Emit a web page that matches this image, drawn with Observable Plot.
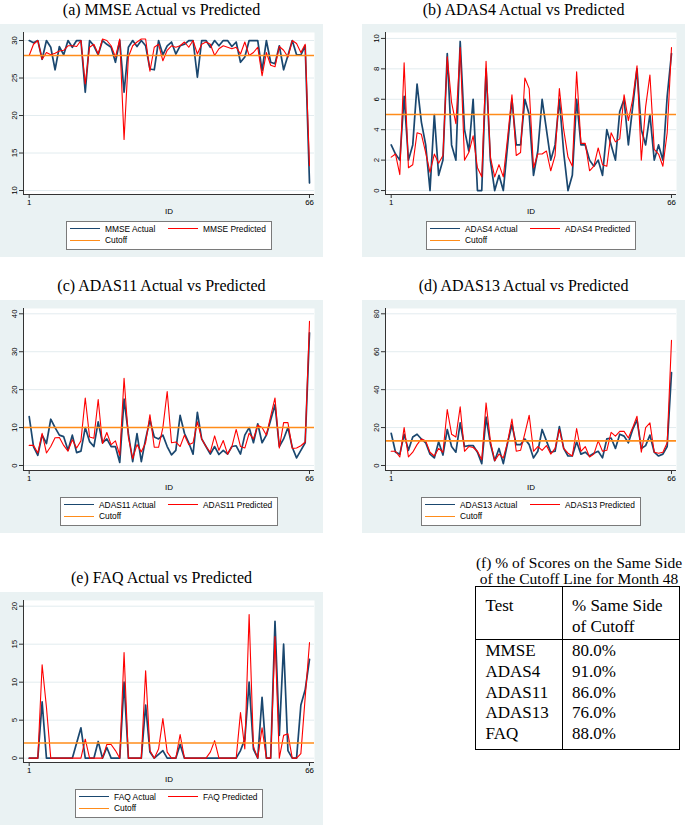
<!DOCTYPE html>
<html>
<head>
<meta charset="utf-8">
<script src="https://cdn.jsdelivr.net/npm/d3@7"></script>
<script src="https://cdn.jsdelivr.net/npm/@observablehq/plot@0.6"></script>
<style>
html, body { margin: 0; padding: 0; background: #fff; }
#root { position: relative; width: 685px; height: 827px; overflow: hidden; font-family: "Liberation Sans", Arial, sans-serif; }
.ptitle { position: absolute; width: 323px; text-align: center; font-family: "Liberation Serif", "Times New Roman", serif; font-size: 16px; line-height: 16px; color: #000; white-space: nowrap; }
.panel { position: absolute; width: 323px; height: 233px; background: #EAF2F3; }
.panel svg { position: absolute; left: 0; top: 0; }
.legend { position: absolute; top: 197px; left: 169px; transform: translateX(-50%); background: #fff; border: 1px solid #7a7a7a; padding: 2px 5px 2px 3px; display: grid; grid-template-columns: auto auto; font-size: 8.4px; line-height: 11.4px; white-space: nowrap; color: #000; }
.legend .sw { display: inline-block; width: 30px; vertical-align: middle; margin-right: 5px; position: relative; top: -1px; }
.ttitle { position: absolute; left: 466px; top: 555px; width: 226px; text-align: center; font-family: "Liberation Serif", "Times New Roman", serif; font-size: 15.5px; line-height: 16px; white-space: nowrap; color: #000; }
table.res { position: absolute; left: 475px; top: 586px; border-collapse: collapse; font-family: "Liberation Serif", "Times New Roman", serif; font-size: 17px; color: #000; border: 1px solid #000; }
table.res td { padding: 0 3px 0 9.5px; line-height: 20.75px; vertical-align: top; white-space: nowrap; }
table.res td.c1 { width: 73px; border-right: 1px solid #000; }
table.res td.c2 { width: 104px; }
table.res tr.head td { line-height: 21px; padding-top: 8px; padding-bottom: 1.5px; border-bottom: 1px solid #000; }
table.res tr.first td { padding-top: 1.6px; }
table.res tr.last td { padding-bottom: 4.6px; }
</style>
</head>
<body>
<div id="root"></div>
<script>
// ---------- data ----------
const ids = d3.range(1, 67);

const mmseActual = [30,29.7,30,27.5,30,29.1,26.1,29.2,28.1,30, 29.1,30,30,23.1,30,29.3,28.1,30,29.5,29.1, 27.1,30,23.1,29.1,30,29.2,30,29.3,26.2,26.1, 30,28.1,29.3,29.8,28.2,29.3,29.5,30,30,25.1, 30,30,29.1,30,29.3,30,30,29.2,29.8,27.1, 27.8,30,30,30,26.0,30,27.1,26.9,29.3,26.1, 28.0,30,28.1,28.1,29.3,11.0];
const mmsePredicted = [28.0,29.5,30,27.5,28.4,28.1,28.3,28.6,28.7,29.3, 29.3,29.2,30,24.2,29.1,29.5,28.2,30.2,30,29.3, 27.8,30.2,16.8,27.8,29.3,29.8,30.2,30.2,25.9,29.1, 29.5,27.3,28.7,29.3,29.1,29.3,29.8,29.1,30,28.2, 29.5,29.8,29.5,28.0,28.9,29.3,29.1,28.9,29.1,28.2, 29.8,28.0,28.4,29.1,25.3,28.4,26.7,26.5,29.2,28.7, 27.8,30,29.6,28.4,29.5,13.3];

const adas4Actual = [3.0,2.4,2.0,6.2,2.0,3.0,7.0,4.5,3.0,0, 5.0,1.0,2.0,9.0,3.0,2.0,9.8,4.0,2.6,6.0, 0,0,8.0,2.0,0,1.0,0,3.0,6.0,3.0, 3.0,6.0,5.0,1.0,2.6,6.0,4.0,2.0,3.0,6.0, 2.5,0,1.0,6.0,3.0,3.0,2.0,1.6,2.0,1.0, 4.0,3.0,2.0,5.2,6.0,3.0,5.5,8.0,4.0,3.0, 5.0,2.0,3.0,2.0,6.2,9.0];
const adas4Predicted = [2.2,2.4,1.05,8.4,1.5,1.7,3.8,3.7,2.5,1.2, 2.4,1.8,2.3,8.8,5.8,4.4,9.4,2.0,2.5,3.6, 1.5,0.9,8.5,2.2,0.9,1.7,0.9,3.5,6.3,2.3, 2.5,7.4,6.7,1.5,2.4,2.4,2.6,1.3,2.3,6.7, 4.0,2.2,1.6,7.8,3.1,3.1,1.3,1.6,2.8,1.7, 1.6,3.8,3.2,3.4,6.3,4.6,6.0,8.2,2.0,5.5, 7.6,2.7,2.4,1.6,3.8,9.4];

const adas11Actual = [12.9,5,2.7,8,5.8,12.2,10,8,7.6,4, 8,3.4,3.8,10,6.3,5,11.5,6,7,5, 5,0.8,17.5,8.4,1,8.4,1,7,12,7.5, 7,8,5,2.8,4,13.2,8.5,6,3,14, 7,5,3,5,2.9,4,3,5,5.2,3, 8,10,6,11,6,8,12,16,5,7, 10,4.8,2,4,6,35];
const adas11Predicted = [5.3,5.3,3.3,8.5,3.3,5,7.3,7.4,5.3,3.8, 6.8,4.6,6.5,17.8,7.5,7.2,17.4,5.8,8.7,5.5, 6.5,2.7,23,7.5,1.8,5.5,3.6,6,13.4,4.8, 4.8,10,19.5,6,6.2,5,8,5.5,6,11.5, 7,5,3.5,7.8,4,6.6,3,5,9.5,5, 4.6,8.5,7,10.6,10,8,13,17.8,4.6,11.3, 11.3,4.5,4.6,5.2,6.2,38];

const adas13Actual = [17,7,6,16.5,8,15,16.5,14,12,6, 4,12.5,5.5,19,10,7,22.5,10,10.5,10.5, 7,1,25.5,11.5,2.5,9,1,12,21.5,11, 11,14,11,4,7.5,19,13,7,7.5,20.5, 9,5,5,12.5,6,7,5,6.5,7.5,4, 14,14.5,9,16.5,15.5,12,19,24,9,10.5, 16,7,5,6,10,49];
const adas13Predicted = [7.5,7.5,4.5,20,4.5,7,11,14,13,7, 5,9,7,29.5,16.5,15,31,7.5,10,9.5, 7.5,3,33,13,2.5,6,4,12.5,24.5,7.5, 8,17,26.5,7.5,10,8,10.5,6,9,19, 9,6.5,5,19.5,7.5,10,4.5,6,13,7.5, 8,17.5,15.5,18,18,14.5,20,26,7,20, 22.5,7,6.5,7,12,66];

const faqActual = [0,0,0,7.4,0,0,0,0,0,0, 0,2,4,0,0,0,2.2,0,1.4,0, 0,0,10,0,0,0,0,7,0.8,0, 0.5,1,0,0,0,1.8,0,0,0,0, 0,0,0,0,0,0,0,0,0,1, 2.5,10,1.2,0,8,0,0,18,3,15, 1,0,0,7,9,13];
const faqPredicted = [0,0,0,12.3,6.7,0,0,0,0,0, 0,0,0,2.5,0,0,0,0,1.8,1.8, 1.0,0,13.9,0,0,0,0,11.5,1.0,0, 1.2,5.2,0.8,0,0,3.1,0,0,0,0, 0,0,0.8,2.3,0,0,0,0,0,6, 1.2,18.9,1.5,0,4,0,0,16,0,3, 3.2,0,0,0.6,8,15.2];

const testNames = ["MMSE", "ADAS4", "ADAS11", "ADAS13", "FAQ"];
const cutoffs = [28, 5, 10, 13, 2];
const yTicks = [[10,15,20,25,30], [0,2,4,6,8,10], [0,10,20,30,40], [0,20,40,60,80], [0,5,10,15,20]];
const yDomains = [[9.47,31.07], [-0.26,10.39], [-1.32,41.4], [-2.64,82.8], [-0.57,20.75]];
const xTicks = [1, 66];
const panelLetters = ["a", "b", "c", "d", "e"];
const sameSidePct = ["80.0%", "91.0%", "86.0%", "76.0%", "88.0%"];
const tableTitle = ["(f) % of Scores on the Same Side", "of the Cutoff Line for Month 48"];
const tableHeader = [["Test"], ["% Same Side", "of Cutoff"]];

const actuals = [mmseActual, adas4Actual, adas11Actual, adas13Actual, faqActual];
const predicteds = [mmsePredicted, adas4Predicted, adas11Predicted, adas13Predicted, faqPredicted];

// ---------- layout ----------
const panelPos = [[0, 24], [362, 24], [0, 300], [362, 300], [0, 592]];
const root = document.getElementById("root");
const xDomain = [-0.32, 67.16];

const BLUE = "#1A476F", RED = "#FF0000", ORANGE = "#FF8C1A";

testNames.forEach((name, k) => {
  const [px, py] = panelPos[k];
  const title = document.createElement("div");
  title.className = "ptitle";
  title.style.left = px + "px";
  title.style.top = (py - 22) + "px";
  title.textContent = `(${panelLetters[k]}) ${name} Actual vs Predicted`;
  root.appendChild(title);

  const panel = document.createElement("div");
  panel.className = "panel";
  panel.style.left = px + "px";
  panel.style.top = py + "px";
  root.appendChild(panel);

  const data = ids.map((id, i) => ({id, actual: actuals[k][i], predicted: predicteds[k][i]}));
  const yd = yDomains[k];
  const chart = Plot.plot({
    width: 323, height: 200,
    marginLeft: 23, marginRight: 9, marginTop: 8, marginBottom: 30,
    style: {background: "transparent", fontFamily: "'Liberation Sans', Arial, sans-serif", fontSize: "7.8px", color: "#000", overflow: "visible"},
    x: {domain: xDomain, label: null},
    y: {domain: yd, label: null},
    marks: [
      Plot.frame({fill: "white", stroke: "none"}),
      Plot.gridY({ticks: yTicks[k], stroke: "#E3ECEF", strokeOpacity: 1, strokeWidth: 1}),
      Plot.line(data, {x: "id", y: "actual", stroke: BLUE, strokeWidth: 1.7}),
      Plot.line(data, {x: "id", y: "predicted", stroke: RED, strokeWidth: 1.1}),
      Plot.ruleY([cutoffs[k]], {stroke: ORANGE, strokeWidth: 1.6}),
      Plot.ruleX([xDomain[0]], {stroke: "#333", strokeWidth: 1}),
      Plot.ruleY([yd[0]], {stroke: "#333", strokeWidth: 1}),
      Plot.axisY({ticks: yTicks[k], tickRotate: -90, tickSize: 4, tickPadding: 3, label: null, stroke: "#333", fill: "#000"}),
      Plot.axisX({ticks: xTicks, tickSize: 4, tickPadding: 1, label: null, stroke: "#333", fill: "#000"}),
      Plot.text(["ID"], {frameAnchor: "bottom", dy: 19, text: d => d, fontSize: 8, fill: "#000"})
    ]
  });
  panel.appendChild(chart);

  const leg = document.createElement("div");
  leg.className = "legend";
  const items = [[`${name} Actual`, BLUE, 1.7], [`${name} Predicted`, RED, 1.1], ["Cutoff", ORANGE, 1.6]];
  items.forEach(([label, color, w]) => {
    const it = document.createElement("div");
    const sw = document.createElement("span");
    sw.className = "sw";
    sw.style.borderTop = `${w}px solid ${color}`;
    it.appendChild(sw);
    it.appendChild(document.createTextNode(label));
    leg.appendChild(it);
  });
  panel.appendChild(leg);
  // equal-width legend columns, as in the original
  const colW = Math.ceil(Math.max(...Array.from(leg.children).map(c => c.scrollWidth)));
  leg.style.gridTemplateColumns = `${colW}px ${colW}px`;
});

// ---------- table (f) ----------
const tt = document.createElement("div");
tt.className = "ttitle";
tt.innerHTML = tableTitle.join("<br>");
root.appendChild(tt);

const table = document.createElement("table");
table.className = "res";
const head = document.createElement("tr");
head.className = "head";
tableHeader.forEach((lines, j) => {
  const td = document.createElement("td");
  td.className = j === 0 ? "c1" : "c2";
  td.innerHTML = lines.join("<br>");
  head.appendChild(td);
});
table.appendChild(head);
testNames.forEach((name, i) => {
  const tr = document.createElement("tr");
  if (i === 0) tr.className = "first";
  if (i === testNames.length - 1) tr.className = "last";
  const a = document.createElement("td"); a.className = "c1"; a.textContent = name;
  const b = document.createElement("td"); b.className = "c2"; b.textContent = sameSidePct[i];
  tr.appendChild(a); tr.appendChild(b);
  table.appendChild(tr);
});
root.appendChild(table);
</script>
</body>
</html>
